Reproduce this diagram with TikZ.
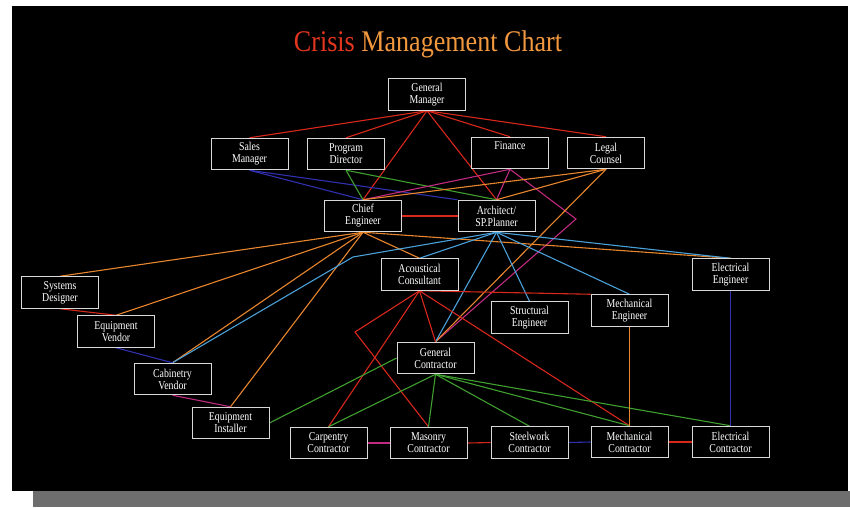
\documentclass[tikz,border=0pt]{standalone}
\usepackage{fontspec}
\newfontfamily\boxfont{Liberation Serif}[FakeStretch=0.82]
\newfontfamily\titlefont{Liberation Serif}[FakeStretch=0.87]
\pgfdeclarelayer{panel}
\pgfdeclarelayer{links}
\pgfsetlayers{panel,links,main}

\definecolor{cred}{HTML}{D8281C}
\definecolor{corange}{HTML}{E8862E}
\definecolor{ctitlered}{HTML}{E4361E}
\definecolor{ctitleor}{HTML}{F2983E}
\definecolor{cblue}{HTML}{4AA0D8}
\definecolor{cgreen}{HTML}{3F9F2F}
\definecolor{cnavy}{HTML}{3030B0}
\definecolor{cmag}{HTML}{C02A80}
\definecolor{boxline}{HTML}{D8D8D8}
\definecolor{shadowgray}{HTML}{6E6E6E}

\tikzset{
  box/.style={draw=boxline, line width=1pt, fill=black, minimum width=77pt,
    minimum height=31.5pt, inner sep=0pt, align=center, text=white,
    font=\boxfont\fontsize{12}{12}\selectfont},
  link/.style={line width=1.1pt},
  lred/.style={link, draw=cred},
  lorange/.style={link, draw=corange},
  lblue/.style={link, draw=cblue},
  lgreen/.style={link, draw=cgreen},
  lnavy/.style={link, draw=cnavy},
  lmag/.style={link, draw=cmag},
}

\begin{document}
\begin{tikzpicture}[x=1pt, y=-1pt]
\useasboundingbox (0,0) rectangle (850,507);

% page, drop shadow and black panel
\begin{pgfonlayer}{panel}
  \fill[white] (0,0) rectangle (850,507);
  \fill[shadowgray] (33,491) rectangle (850,507);
  \fill[black] (12,6) rectangle (848,491);
\end{pgfonlayer}

% title
\node (title) at (428,44) {\titlefont\fontsize{30}{30}\selectfont
  \textcolor{ctitlered}{Crisis} \textcolor{ctitleor}{Management Chart}};

% management
\node[box] (gm)   at (427,94.5)  {General\\Manager};
\node[box] (sm)   at (249.5,154) {Sales\\Manager};
\node[box] (pd)   at (346,154)   {Program\\Director};
\node[box] (fin)  at (510,153)   {Finance\\\strut};
\node[box] (lc)   at (606,153)   {Legal\\Counsel};
\node[box] (ce)   at (363,216)   {Chief\\Engineer};
\node[box] (arch) at (496.5,216) {Architect/\\SP.Planner};

% consultants and engineers
\node[box] (ac)   at (419.5,274.5) {Acoustical\\Consultant};
\node[box] (ee)   at (730.5,274.5) {Electrical\\Engineer};
\node[box] (se)   at (529.5,317.5) {Structural\\Engineer};
\node[box] (me)   at (629.5,310.5) {Mechanical\\Engineer};

% vendors
\node[box] (sd)   at (60,292.5)  {Systems\\Designer};
\node[box] (ev)   at (116,331.5) {Equipment\\Vendor};
\node[box] (cv)   at (172.5,379) {Cabinetry\\Vendor};
\node[box] (ei)   at (230.5,423) {Equipment\\Installer};

% contractors
\node[box] (gc)   at (435.5,358) {General\\Contractor};
\node[box] (cc)   at (328.5,443) {Carpentry\\Contractor};
\node[box] (mc)   at (428.5,443) {Masonry\\Contractor};
\node[box] (sc)   at (529.5,442.5) {Steelwork\\Contractor};
\node[box] (mech) at (629.5,442) {Mechanical\\Contractor};
\node[box] (elc)  at (730.5,442) {Electrical\\Contractor};

% bend points
\coordinate (finbend)  at (576,219);
\coordinate (archbend) at (353,257);
\coordinate (acbend)   at (355,332);

\begin{pgfonlayer}{links}
  % general manager
  \draw[lred] (gm.south) -- (sm.north);
  \draw[lred] (gm.south) -- (pd.north);
  \draw[lred] (gm.south) -- (ce.north);
  \draw[lred] (gm.south) -- (arch.north);
  \draw[lred] (gm.south) -- (fin.north);
  \draw[lred] (gm.south) -- (lc.north);
  % sales manager
  \draw[lnavy] (sm.south) -- (ce.north);
  \draw[lnavy] (sm.south) -- (arch.north west);
  % program director
  \draw[lgreen] (pd.south) -- (ce.north);
  \draw[lgreen] (pd.south) -- (arch.north);
  % finance
  \draw[lmag] (fin.south) -- (ce.north);
  \draw[lmag] (fin.south) -- (arch.north);
  \draw[lmag] (fin.south) -- (finbend) -- (gc.north);
  % legal counsel
  \draw[lorange] (lc.south) -- (ce.north);
  \draw[lorange] (lc.south) -- (arch.north);
  \draw[lorange] (lc.south) -- (gc.north);
  % chief engineer
  \draw[lred] (ce.east) -- (arch.west);
  \draw[lorange] (ce.south) -- (sd.north);
  \draw[lorange] (ce.south) -- (ev.north);
  \draw[lorange] (ce.south) -- (cv.north);
  \draw[lorange] (ce.south) -- (ei.north);
  \draw[lorange] (ce.south) -- (ac.north);
  \draw[lorange] (ce.south) -- (ee.north);
  % architect
  \draw[lblue] (arch.south) -- (archbend) -- (cv.north);
  \draw[lblue] (arch.south) -- (ac.north);
  \draw[lblue] (arch.south) -- (gc.north);
  \draw[lblue] (arch.south) -- (se.north);
  \draw[lblue] (arch.south) -- (me.north);
  \draw[lblue] (arch.south) -- (ee.north);
  % acoustical consultant
  \draw[lred] (ac.south) -- (me.north west);
  \draw[lred] (ac.south) -- (gc.north);
  \draw[lred] (ac.south) -- (cc.north);
  \draw[lred] (ac.south) -- (acbend) -- (mc.north);
  \draw[lred] (ac.south) -- (mech.north);
  % general contractor
  \draw[lgreen] (gc.west) -- (ei.east);
  \draw[lgreen] (gc.south) -- (cc.north);
  \draw[lgreen] (gc.south) -- (mc.north);
  \draw[lgreen] (gc.south) -- (sc.north);
  \draw[lgreen] (gc.south) -- (mech.north);
  \draw[lgreen] (gc.south) -- (elc.north);
  % vendor chain
  \draw[lred] (sd.south) -- (ev.north);
  \draw[lnavy] (ev.south) -- (cv.north);
  \draw[lmag] (cv.south) -- (ei.north);
  % contractor row
  \draw[lmag] (cc.east) -- (mc.west);
  \draw[lred] (mc.east) -- (sc.west);
  \draw[lnavy] (sc.east) -- (mech.west);
  \draw[lred] (mech.east) -- (elc.west);
  % engineers to their contractors
  \draw[lorange] (me.south) -- (mech.north);
  \draw[lnavy] (ee.south) -- (elc.north);
\end{pgfonlayer}
\end{tikzpicture}
\end{document}
